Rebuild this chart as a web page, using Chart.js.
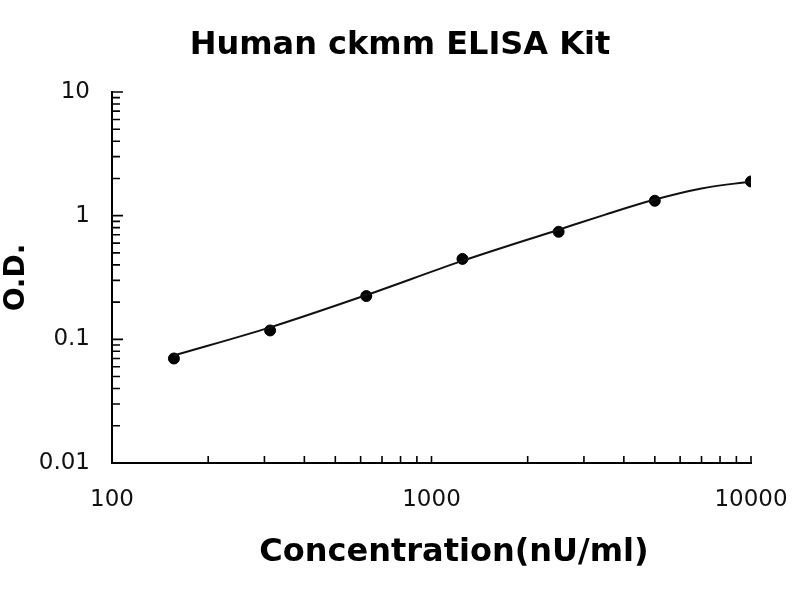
<!DOCTYPE html>
<html>
<head>
<meta charset="utf-8">
<script src="https://cdn.jsdelivr.net/npm/chart.js@4.4.1/dist/chart.umd.min.js"></script>
<style>
  html, body { margin: 0; background: #fff; }
  #wrap { width: 800px; height: 600px; }
</style>
</head>
<body>
<div id="wrap"><canvas id="chart"></canvas></div>
<script>
const chartTitle = 'Human ckmm ELISA Kit';
const xTitle = 'Concentration(nU/ml)';
const yTitle = 'O.D.';

// standards
const conc = [156.25, 312.5, 625, 1250, 2500, 5000, 10000];
const od   = [0.070, 0.118, 0.224, 0.447, 0.741, 1.32, 1.89];

// fitted curve
const curveConc = [156.25, 312.5, 625, 1250, 2500, 3500, 5000, 7000, 10000];
const curveOD   = [0.074, 0.125, 0.228, 0.431, 0.77, 1.02, 1.35, 1.66, 1.89];

// tick marks (log minor ticks) and which of them get a label
const xTicks = [100, 200, 300, 400, 500, 600, 700, 800, 900,
                1000, 2000, 3000, 4000, 5000, 6000, 7000, 8000, 9000, 10000];
const yTicks = [0.01, 0.02, 0.03, 0.04, 0.05, 0.06, 0.07, 0.08, 0.09,
                0.1, 0.2, 0.3, 0.4, 0.5, 0.6, 0.7, 0.8, 0.9,
                1, 2, 3, 4, 5, 6, 7, 8, 9, 10];
const xLabels = [100, 1000, 10000];
const yLabels = [0.01, 0.1, 1, 10];

const FONT = '"DejaVu Sans", Verdana, sans-serif';

// inward tick marks + the two horizontal titles
const extras = {
  id: 'extras',
  afterDraw(chart) {
    const { ctx, chartArea: a, scales: { x, y } } = chart;
    ctx.save();
    ctx.strokeStyle = '#000';
    ctx.lineWidth = 1.6;
    ctx.beginPath();
    x.ticks.forEach(t => {
      const px = x.getPixelForValue(t.value);
      ctx.moveTo(px, a.bottom);
      ctx.lineTo(px, a.bottom - 7);
    });
    y.ticks.forEach(t => {
      const py = y.getPixelForValue(t.value);
      const len = yLabels.includes(t.value) ? 11 : 8;
      ctx.moveTo(a.left, py);
      ctx.lineTo(a.left + len, py);
    });
    ctx.stroke();

    ctx.fillStyle = '#000';
    ctx.textAlign = 'center';
    ctx.textBaseline = 'alphabetic';
    ctx.font = 'bold 32px ' + FONT;
    ctx.fillText(chartTitle, chart.width / 2, 54);
    ctx.fillText(xTitle, 454, 561);
    ctx.restore();
  }
};

new Chart(document.getElementById('chart'), {
  type: 'scatter',
  data: {
    datasets: [
      {
        label: 'fit',
        data: curveConc.map((c, i) => ({ x: c, y: curveOD[i] })),
        showLine: true,
        borderColor: '#111',
        borderWidth: 2,
        pointRadius: 0,
        cubicInterpolationMode: 'monotone',
      },
      {
        label: 'standards',
        data: conc.map((c, i) => ({ x: c, y: od[i] })),
        backgroundColor: '#000',
        borderColor: '#000',
        borderWidth: 1,
        pointRadius: 5.5,
      },
    ],
  },
  options: {
    responsive: true,
    maintainAspectRatio: false,
    animation: false,
    layout: { padding: { top: 92, right: 49, bottom: 0, left: 0 } },
    plugins: { legend: { display: false }, tooltip: { enabled: false } },
    scales: {
      x: {
        type: 'logarithmic',
        min: 100, max: 10000,
        grid: { display: false, drawTicks: false },
        border: { display: true, color: '#000', width: 2 },
        afterBuildTicks: s => { s.ticks = xTicks.map(v => ({ value: v })); },
        afterFit: s => { s.height = 137; s.paddingLeft = 0; s.paddingRight = 0; },
        ticks: {
          autoSkip: false, maxRotation: 0, padding: 23,
          color: '#111', font: { family: FONT, size: 23 },
          callback: v => xLabels.includes(v) ? String(v) : '',
        },
      },
      y: {
        type: 'logarithmic',
        min: 0.01, max: 10,
        grid: { display: false, drawTicks: false },
        border: { display: true, color: '#000', width: 2 },
        afterBuildTicks: s => { s.ticks = yTicks.map(v => ({ value: v })); },
        afterFit: s => { s.width = 112; },
        title: {
          display: true, text: yTitle, color: '#000', padding: 0,
          font: { family: FONT, size: 28, weight: 'bold' },
        },
        ticks: {
          autoSkip: false, padding: 22,
          color: '#111', font: { family: FONT, size: 23 },
          callback: v => yLabels.includes(v) ? String(v) : '',
        },
      },
    },
  },
  plugins: [extras],
});
</script>
</body>
</html>
